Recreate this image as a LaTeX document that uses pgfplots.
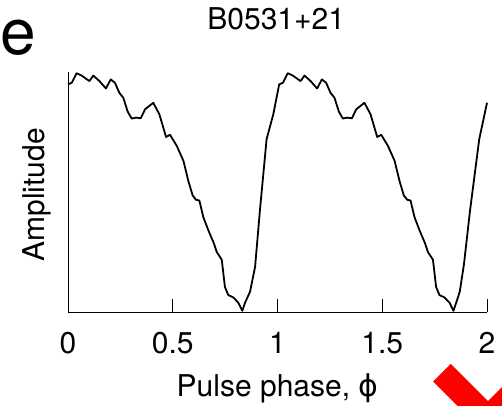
\documentclass[border=0pt]{standalone}
\usepackage{pgfplots}
\pgfplotsset{compat=1.18}
\usepackage{fontspec}
\setmainfont{TeX Gyre Heros}
\newfontfamily\dejavu{DejaVu Sans}
\begin{document}
\begin{tikzpicture}[font=\fontsize{30}{36}\selectfont]
\path[use as bounding box] (0pt,0pt) rectangle (502pt,405pt);
\begin{axis}[
  at={(68pt,93pt)}, anchor=south west,
  scale only axis, width=419pt, height=240pt,
  xmin=0, xmax=2, ymin=0, ymax=1.005,
  axis x line*=bottom, axis y line*=left,
  axis line style={line width=1pt},
  xtick={0,0.5,1,1.5,2},
  xticklabels={0,0.5,1,1.5,2},
  ytick=\empty,
  tick align=inside,
  major tick length=13pt,
  tick style={line width=0.8pt, black},
  xticklabel style={anchor=base, yshift=-41pt},
  /pgf/number format/assume math mode=true,
  xlabel={Pulse phase, {\dejavu ϕ}},
  xlabel style={at={(axis description cs:0.5,-0.354)}, anchor=base},
  ylabel={Amplitude},
  ylabel style={at={(axis description cs:-0.055,0.4875)}, anchor=base, rotate=0},
  title={B0531+21},
  title style={at={(axis description cs:0.497,1.154)}, anchor=base},
  clip=false,
]
\addplot[black, line width=1.8pt, line join=round] coordinates {
(0.000,0.953) (0.018,0.960) (0.041,1.000) (0.065,0.990) (0.102,0.967)
(0.121,0.990) (0.150,0.967) (0.181,0.936) (0.204,0.974) (0.224,0.960)
(0.245,0.918) (0.264,0.897) (0.285,0.839) (0.304,0.810) (0.325,0.814)
(0.347,0.811) (0.368,0.849) (0.407,0.876) (0.436,0.828) (0.468,0.733)
(0.487,0.742) (0.519,0.696) (0.551,0.633) (0.574,0.550) (0.595,0.488)
(0.611,0.470) (0.627,0.467) (0.646,0.397) (0.670,0.342) (0.697,0.286)
(0.710,0.251) (0.734,0.219) (0.749,0.105) (0.765,0.071) (0.789,0.061)
(0.813,0.039) (0.832,0.005) (0.845,0.039) (0.869,0.085) (0.893,0.189)
(0.916,0.425) (0.948,0.724) (0.980,0.828) (1.008,0.953)
(1.026,0.960) (1.049,1.000) (1.073,0.990) (1.110,0.967) (1.129,0.990)
(1.158,0.967) (1.189,0.936) (1.212,0.974) (1.232,0.960) (1.253,0.918)
(1.272,0.897) (1.293,0.839) (1.312,0.810) (1.333,0.814) (1.355,0.811)
(1.376,0.849) (1.415,0.876) (1.444,0.828) (1.476,0.733) (1.495,0.742)
(1.527,0.696) (1.559,0.633) (1.582,0.550) (1.603,0.488) (1.619,0.470)
(1.635,0.467) (1.654,0.397) (1.678,0.342) (1.705,0.286) (1.718,0.251)
(1.742,0.219) (1.757,0.105) (1.773,0.071) (1.797,0.061) (1.821,0.039)
(1.840,0.005) (1.853,0.039) (1.870,0.085) (1.890,0.200) (1.919,0.425)
(1.963,0.724) (2.000,0.876)
};
\end{axis}
\node[anchor=base west, inner sep=0pt, font=\fontsize{64}{70}\selectfont] at (0pt,350pt) {e};
\draw[red, line width=25pt, line join=miter] (442pt,32.3pt) -- (488pt,-13.7pt) -- (540pt,38.3pt);
\end{tikzpicture}
\end{document}
